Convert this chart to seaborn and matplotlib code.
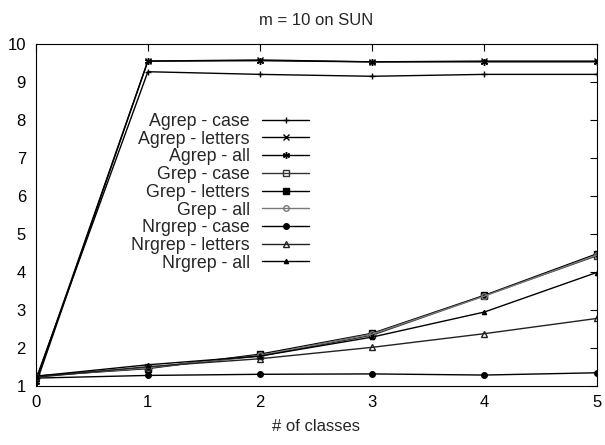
import matplotlib
matplotlib.use("Agg")
import matplotlib.pyplot as plt
import seaborn as sns

# number of classes on the x axis
classes = [0, 1, 2, 3, 4, 5]

agrep_case = [1.15, 9.27, 9.20, 9.15, 9.20, 9.20]
agrep_letters = [1.02, 9.55, 9.58, 9.53, 9.55, 9.55]
agrep_all = [1.10, 9.55, 9.56, 9.53, 9.53, 9.53]
grep_case = [1.25, 1.48, 1.78, 2.33, 3.37, 4.42]
grep_letters = [1.25, 1.45, 1.83, 2.38, 3.38, 4.47]
grep_all = [1.24, 1.47, 1.80, 2.36, 3.36, 4.44]
nrgrep_case = [1.20, 1.27, 1.30, 1.31, 1.28, 1.34]
nrgrep_letters = [1.22, 1.50, 1.71, 2.01, 2.37, 2.77]
nrgrep_all = [1.25, 1.55, 1.78, 2.28, 2.94, 3.98]

labels = ["Agrep - case", "Agrep - letters", "Agrep - all",
          "Grep - case", "Grep - letters", "Grep - all",
          "Nrgrep - case", "Nrgrep - letters", "Nrgrep - all"]
series = [agrep_case, agrep_letters, agrep_all,
          grep_case, grep_letters, grep_all,
          nrgrep_case, nrgrep_letters, nrgrep_all]

sns.set_style("white")
plt.rcParams["font.family"] = ["Liberation Sans", "DejaVu Sans"]

styles = [
    dict(marker="+", ms=5, mfc="black", color="black"),
    dict(marker="x", ms=4, mfc="black", color="black"),
    dict(marker=(6, 2, 0), ms=5, mfc="black", color="black"),
    dict(marker="s", ms=4, mfc="none", color="#333333"),
    dict(marker="s", ms=5, mfc="black", color="black"),
    dict(marker="o", ms=4, mfc="none", color="#777777"),
    dict(marker="o", ms=4, mfc="black", color="black"),
    dict(marker="^", ms=4, mfc="none", color="#222222"),
    dict(marker="^", ms=3, mfc="black", color="black"),
]

fig = plt.figure(figsize=(6.05, 4.45), dpi=100)
ax = fig.add_axes([0.059, 0.1333, 0.927, 0.7678])

for lab, vals, st in zip(labels, series, styles):
    sns.lineplot(x=classes, y=vals, ax=ax, label=lab, linewidth=1.0,
                 marker=st["marker"], markersize=st["ms"],
                 markerfacecolor=st["mfc"], markeredgecolor=st["color"],
                 markeredgewidth=1.0, color=st["color"])

ax.set_xlim(0, 5)
ax.set_ylim(1, 10)
ax.set_xticks(classes)
ax.set_yticks(range(1, 11))
ax.tick_params(direction="in", length=5, width=0.8, top=True, right=True,
               labelsize=12, pad=7, colors="black")
for s in ax.spines.values():
    s.set_color("black")
    s.set_linewidth(0.8)
ax.set_xlabel("# of classes", fontsize=12, labelpad=6)
ax.set_ylabel("")
ax.set_title("m = 10 on SUN", fontsize=12, pad=14)

# labels right-aligned next to their line samples
ax.legend(loc="center right", bbox_to_anchor=(0.4877, 0.566),
          frameon=False, markerfirst=False, fontsize=12.8,
          handlelength=2.66, handletextpad=0.68, labelspacing=0.04,
          borderpad=0, borderaxespad=0)

fig.savefig("out.png", dpi=100)
